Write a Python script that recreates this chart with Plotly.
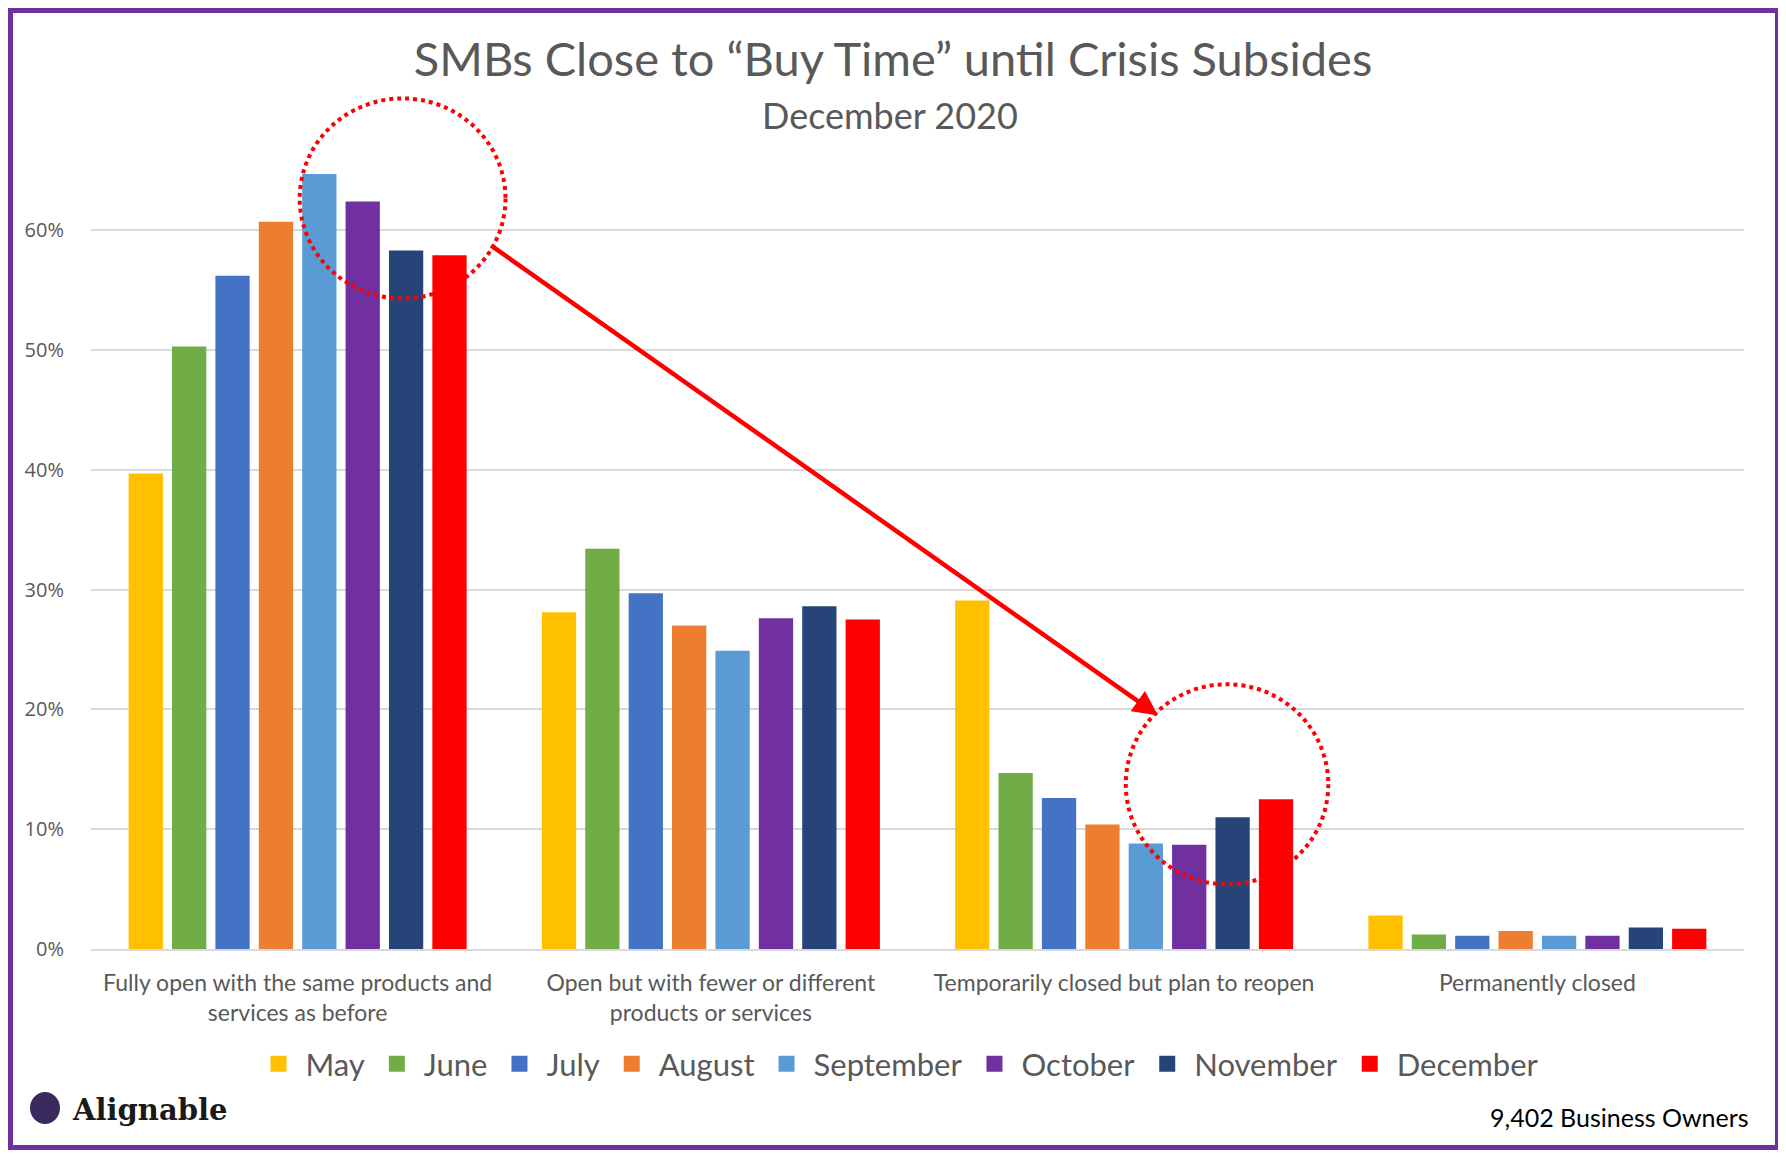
import plotly.graph_objects as go

# data
categories = [
    "Fully open with the same products and<br>services as before",
    "Open but with fewer or different<br>products or services",
    "Temporarily closed but plan to reopen",
    "Permanently closed",
]
months = ["May", "June", "July", "August", "September", "October", "November", "December"]
may = [0.397, 0.281, 0.291, 0.028]
june = [0.503, 0.334, 0.147, 0.012]
july = [0.562, 0.297, 0.126, 0.011]
august = [0.607, 0.270, 0.104, 0.015]
september = [0.647, 0.249, 0.088, 0.011]
october = [0.624, 0.276, 0.087, 0.011]
november = [0.583, 0.286, 0.110, 0.018]
december = [0.579, 0.275, 0.125, 0.017]
series = [may, june, july, august, september, october, november, december]
colors = ["#FFC000", "#70AD47", "#4472C4", "#ED7D31", "#5B9BD5", "#7030A0", "#264478", "#FF0000"]
y_ticks = [0, 0.1, 0.2, 0.3, 0.4, 0.5, 0.6]

OFF = 8  # body margin of the page
W, H = 1786 - 2 * OFF, 1158 - 2 * OFF
L, R, T, B = 83, 34, 87, 201
PW, PH = W - L - R, H - T - B


def px(x, y):
    """pixel position on the page -> paper coords"""
    return (x - OFF - L) / PW, (H - B - (y - OFF)) / PH


fig = go.Figure()
for name, vals, col in zip(months, series, colors):
    fig.add_trace(go.Bar(x=categories, y=vals, name=name, marker_color=col,
                         marker_line_width=0, showlegend=False))
# legend entries with bigger square swatches
for name, col in zip(months, colors):
    fig.add_trace(go.Scatter(x=[None], y=[None], mode="markers", name=name,
                             marker=dict(symbol="square", size=16, color=col)))

fig.update_layout(
    width=W,
    height=H,
    margin=dict(l=L, r=R, t=T, b=B),
    paper_bgcolor="white",
    plot_bgcolor="white",
    barmode="group",
    bargap=0.16,
    bargroupgap=0.21,
    font=dict(family="Lato", color="#595959"),
    title=dict(
        text="SMBs Close to “Buy Time” until Crisis Subsides",
        x=0.5, xref="container", xanchor="center",
        y=1 - (60 - OFF) / H, yref="container", yanchor="middle",
        font=dict(size=47, color="#595959", family="Lato"),
    ),
    legend=dict(
        orientation="h", x=px(898, 0)[0], xanchor="center", y=px(0, 1064)[1], yanchor="middle",
        font=dict(size=31, color="#595959"), traceorder="normal", itemwidth=44,
    ),
    showlegend=True,
)
fig.update_yaxes(
    range=[0, PH / 1198], tickvals=y_ticks, tickformat=".0%",
    showgrid=True, gridcolor="#d9d9d9", gridwidth=1.5,
    zeroline=False, showline=False,
    ticks="outside", ticklen=22, tickcolor="rgba(0,0,0,0)",
    tickfont=dict(size=20, color="#595959", family="Open Sans"),
)
fig.update_xaxes(
    showline=True, linecolor="#d9d9d9", linewidth=2,
    ticks="outside", ticklen=12, tickcolor="rgba(0,0,0,0)",
    tickfont=dict(size=23, color="#595959"),
)

# subtitle and footer texts
sx, sy = px(890, 115)
fig.add_annotation(text="December 2020", x=sx, xref="paper", y=sy, yref="paper",
                   showarrow=False, font=dict(size=36, color="#595959"), xanchor="center", yanchor="middle")
fx, fy = px(1751, 1117)
fig.add_annotation(text="9,402 Business Owners", x=fx, y=fy, xref="paper", yref="paper",
                   showarrow=False, xanchor="right", yanchor="middle", font=dict(size=25, color="black"))
lx, ly = px(70, 1110)
fig.add_annotation(text="<b>Alignable</b>", x=lx, y=ly, xref="paper", yref="paper",
                   showarrow=False, xanchor="left", yanchor="middle",
                   font=dict(size=29, color="#1a1a1a", family="DejaVu Serif"))
c0 = px(30, 1092)
c1 = px(60, 1124)
fig.add_shape(type="circle", xref="paper", yref="paper", x0=c0[0], y0=c0[1], x1=c1[0], y1=c1[1],
              fillcolor="#3b2a5e", line_width=0)

# red dotted circles and arrow
fig.add_shape(type="circle", xref="x", yref="y", x0=0.005, x1=0.503, y0=0.543, y1=0.710,
              line=dict(color="#FF0000", width=4, dash="dot"))
fig.add_shape(type="circle", xref="x", yref="y", x0=2.004, x1=2.494, y0=0.054, y1=0.221,
              line=dict(color="#FF0000", width=4, dash="dot"))
fig.add_annotation(x=2.082, y=0.195, ax=0.465, ay=0.588, xref="x", yref="y", axref="x", ayref="y",
                   text="", showarrow=True, arrowhead=2, arrowsize=1.1, arrowwidth=4.5, arrowcolor="#FF0000")

# purple frame round the page
b0 = px(10, 10)
b1 = px(1778, 1148)
fig.add_shape(type="rect", xref="paper", yref="paper", x0=b0[0], y0=b1[1], x1=b1[0], y1=b0[1],
              line=dict(color="#7030A0", width=6), layer="above")

fig.write_html("out.html")
